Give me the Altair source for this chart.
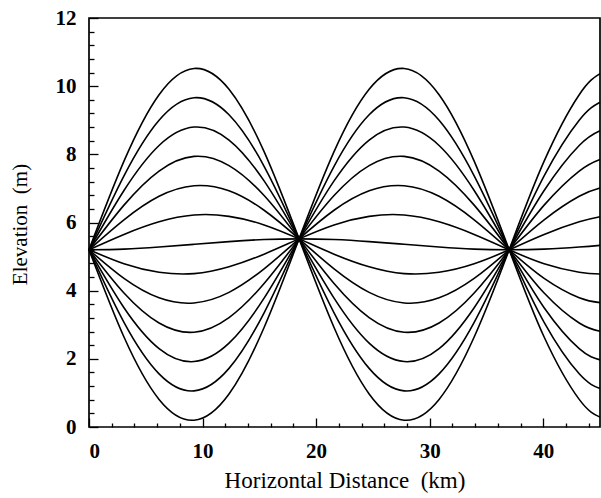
import altair as alt
import pandas as pd

# Horizontal positions (km) at which the profiles were read
x_km = [0, 3.08, 6.17, 9.25, 12.33, 15.42, 18.5, 21.58, 24.67, 27.75,
        30.83, 33.92, 37.0, 40.08, 43.17, 45]

# Elevation (m) of each water-surface profile at x_km
p6 = [5.20, 7.80, 9.75, 10.52, 9.91, 8.08, 5.52, 2.92, 0.97, 0.20, 0.81, 2.64, 5.20, 7.80, 9.75, 10.37]
p5 = [5.20, 7.37, 9.00, 9.66, 9.16, 7.65, 5.52, 3.35, 1.72, 1.06, 1.56, 3.07, 5.20, 7.37, 9.00, 9.53]
p4 = [5.20, 6.94, 8.26, 8.80, 8.42, 7.22, 5.52, 3.78, 2.46, 1.92, 2.30, 3.50, 5.20, 6.94, 8.26, 8.69]
p3 = [5.20, 6.51, 7.51, 7.94, 7.67, 6.79, 5.52, 4.21, 3.21, 2.78, 3.05, 3.93, 5.20, 6.51, 7.51, 7.85]
p2 = [5.20, 6.08, 6.77, 7.08, 6.93, 6.36, 5.52, 4.64, 3.95, 3.64, 3.79, 4.36, 5.20, 6.08, 6.77, 7.01]
p1 = [5.20, 5.65, 6.02, 6.22, 6.18, 5.93, 5.52, 5.07, 4.70, 4.50, 4.54, 4.79, 5.20, 5.65, 6.02, 6.17]
p0 = [5.20, 5.22, 5.28, 5.36, 5.44, 5.50, 5.52, 5.50, 5.44, 5.36, 5.28, 5.22, 5.20, 5.22, 5.28, 5.33]
m1 = [5.20, 4.79, 4.54, 4.50, 4.70, 5.07, 5.52, 5.93, 6.18, 6.22, 6.02, 5.65, 5.20, 4.79, 4.54, 4.49]
m2 = [5.20, 4.36, 3.79, 3.64, 3.95, 4.64, 5.52, 6.36, 6.93, 7.08, 6.77, 6.08, 5.20, 4.36, 3.79, 3.65]
m3 = [5.20, 3.93, 3.05, 2.78, 3.21, 4.21, 5.52, 6.79, 7.67, 7.94, 7.51, 6.51, 5.20, 3.93, 3.05, 2.81]
m4 = [5.20, 3.50, 2.30, 1.92, 2.46, 3.78, 5.52, 7.22, 8.42, 8.80, 8.26, 6.94, 5.20, 3.50, 2.30, 1.97]
m5 = [5.20, 3.07, 1.56, 1.06, 1.72, 3.35, 5.52, 7.65, 9.16, 9.66, 9.00, 7.37, 5.20, 3.07, 1.56, 1.13]
m6 = [5.20, 2.64, 0.81, 0.20, 0.97, 2.92, 5.52, 8.08, 9.91, 10.52, 9.75, 7.80, 5.20, 2.64, 0.81, 0.29]

profiles = {"p6": p6, "p5": p5, "p4": p4, "p3": p3, "p2": p2, "p1": p1, "p0": p0,
            "m1": m1, "m2": m2, "m3": m3, "m4": m4, "m5": m5, "m6": m6}

# Axis tick values
x_labels = [0, 10, 20, 30, 40]
x_ticks = [0, 2, 4, 6, 8, 10, 12, 14, 16, 18, 20, 22, 24, 26, 28, 30,
           32, 34, 36, 38, 40, 42, 44]
y_labels = [0, 2, 4, 6, 8, 10, 12]
y_ticks = [0, 0.4, 0.8, 1.2, 1.6, 2, 2.4, 2.8, 3.2, 3.6, 4, 4.4, 4.8, 5.2, 5.6, 6,
           6.4, 6.8, 7.2, 7.6, 8, 8.4, 8.8, 9.2, 9.6, 10, 10.4, 10.8, 11.2, 11.6, 12]

rows = []
for name, ys in profiles.items():
    for xv, yv in zip(x_km, ys):
        rows.append({"x": xv, "y": yv, "curve": name})
df = pd.DataFrame(rows)

FONT = "Liberation Serif"
W, H = 511, 409

xscale = alt.Scale(domain=[0, 45], nice=False, zero=False)
yscale = alt.Scale(domain=[0, 12], nice=False, zero=False)

lines = alt.Chart(df).mark_line(
    color="black", strokeWidth=1.6, interpolate="natural"
).encode(
    x=alt.X("x:Q", scale=xscale, axis=alt.Axis(
        values=x_labels, format="d", ticks=False, tickSize=0, domain=False, grid=False,
        labelFont=FONT, labelFontSize=21, labelFontWeight="bold", labelColor="black",
        labelBaseline="alphabetic", labelPadding=30,
        title="Horizontal Distance\u00a0 (km)", titleFont=FONT, titleFontSize=23,
        titleFontWeight="normal", titleColor="black", titleBaseline="alphabetic",
        titleY=60)),
    y=alt.Y("y:Q", scale=yscale, axis=alt.Axis(
        values=y_labels, format="d", ticks=False, tickSize=0, domain=False, grid=False,
        labelFont=FONT, labelFontSize=21, labelFontWeight="bold", labelColor="black",
        labelPadding=13, labelBaseline="middle",
        title="Elevation\u00a0 (m)", titleFont=FONT, titleFontSize=21,
        titleFontWeight="normal", titleColor="black", titleX=-69, titleY=206,
        titleAlign="center", titleBaseline="middle")),
    detail="curve:N",
)

ticks = alt.Chart(df).mark_line(opacity=0).encode(
    x=alt.X("x:Q", scale=xscale, axis=alt.Axis(
        orient="top", offset=-H, values=x_ticks, labels=False, domain=False, grid=False,
        title=None, tickColor="black", tickWidth=1.3,
        tickSize={"condition": {"test": "datum.value % 10 === 0", "value": 9}, "value": 4})),
    y=alt.Y("y:Q", scale=yscale, axis=alt.Axis(
        orient="right", offset=-W, values=y_ticks, labels=False, domain=False, grid=False,
        title=None, tickColor="black", tickWidth=1.3,
        tickSize={"condition": {"test": "abs(datum.value % 2) < 0.01", "value": 9}, "value": 5})),
    detail="curve:N",
)

chart = alt.layer(lines, ticks).resolve_axis(
    x="independent", y="independent"
).properties(
    width=W, height=H,
    autosize=alt.AutoSizeParams(type="none"),
    padding={"left": 89, "top": 18, "right": 1, "bottom": 71},
    background="white",
).configure_view(
    stroke="black", strokeWidth=1.7
)

chart.save("out.html", embed_options={"renderer": "svg", "actions": False})
